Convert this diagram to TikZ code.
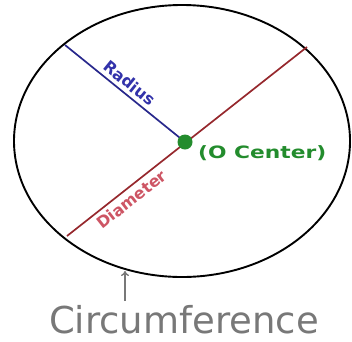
\documentclass[tikz,border=0pt]{standalone}
\usepackage{fontspec}
\setmainfont{DejaVu Sans}
\usetikzlibrary{arrows.meta}
\definecolor{navyline}{RGB}{40,40,140}
\definecolor{radtext}{RGB}{50,50,170}
\definecolor{diamline}{RGB}{150,40,45}
\definecolor{diamtext}{RGB}{205,85,100}
\definecolor{cgreen}{RGB}{35,140,45}
\definecolor{cgray}{RGB}{120,120,120}
\tikzset{
  lbl/.style={font=\bfseries\fontsize{16}{17}\selectfont, inner sep=1pt},
}
\begin{document}
\begin{tikzpicture}[x=1pt,y=-1pt]
\useasboundingbox (0,0) rectangle (352,341);
\draw[line width=1.9pt, black] (182,141) ellipse [x radius=168, y radius=136];
\coordinate (O) at (185,142);
\coordinate (R) at (65,45);
\coordinate (D1) at (67,236);
\coordinate (D2) at (307,47);
\draw[diamline, line width=1.7pt] (D1) -- node[pos=0.24, below=3pt, sloped, lbl, text=diamtext] {Diameter} (D2);
\draw[navyline, line width=1.7pt] (R) -- node[pos=0.48, above=3pt, sloped, lbl, text=radtext] {Radius} (O);
\node[circle, fill=cgreen, minimum size=15pt, inner sep=0pt] (C) at (O) {};
\node[anchor=west, lbl, text=cgreen, font=\bfseries\fontsize{17}{18}\selectfont] (CL) at (197,153) {\scalebox{1.28}[1]{(O Center)}};
\node[text=cgray, font=\fontsize{37}{40}\selectfont, anchor=base, inner sep=0pt] (T) at (184,333) {Circumference};
\coordinate (A1) at (125,301);
\coordinate (A2) at (125,271);
\draw[cgray, line width=1.4pt, -{To[length=5pt,width=8pt]}] (A1) -- (A2);
\end{tikzpicture}
\end{document}
